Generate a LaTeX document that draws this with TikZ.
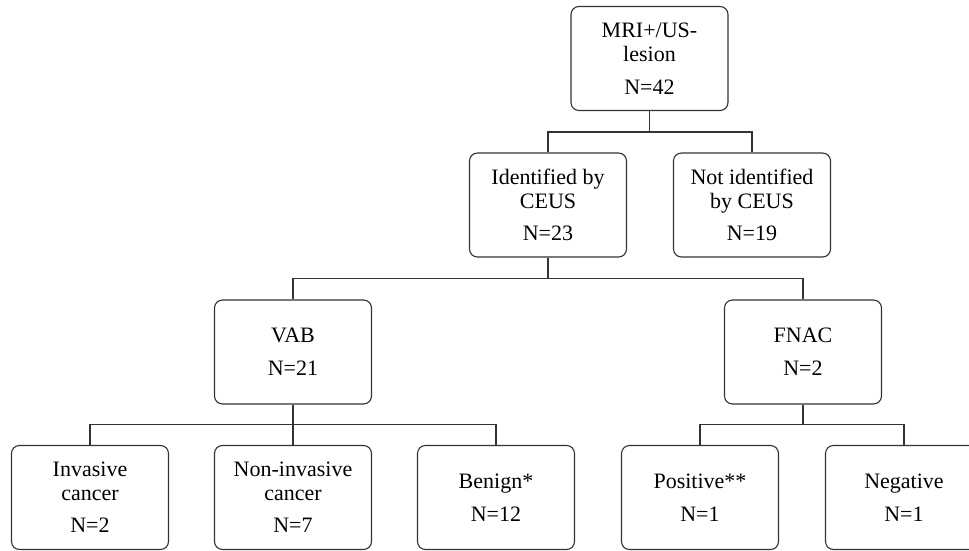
\documentclass[tikz,border=0pt]{standalone}
\usepackage{fontspec}
\setmainfont{Liberation Serif}
\usetikzlibrary{positioning,calc}
\tikzstyle{box}=[draw=black!80,line width=1.1pt,rounded corners=8pt,minimum width=157pt,minimum height=104pt,align=center,inner sep=2pt,font=\fontsize{22}{24}\selectfont]
\tikzstyle{link}=[draw=black!80,line width=1.1pt]

\begin{document}
\begin{tikzpicture}[x=1pt,y=1pt]
	\useasboundingbox (0,0) rectangle (969,550);
	% boxes
	\node [style=box] (mri) at (649.5, 491.5) {MRI+/US-\\lesion\\[9pt]N=42};
	\node [style=box] (ident) at (548, 345) {Identified by\\CEUS\\[8pt]N=23};
	\node [style=box] (notid) at (752, 345) {Not identified\\by CEUS\\[8pt]N=19};
	\node [style=box] (vab) at (293, 198) {VAB\\[9pt]N=21};
	\node [style=box] (fnac) at (803, 198) {FNAC\\[9pt]N=2};
	\node [style=box] (inv) at (90, 52.5) {Invasive\\cancer\\[8pt]N=2};
	\node [style=box] (noninv) at (293, 52.5) {Non-invasive\\cancer\\[8pt]N=7};
	\node [style=box] (benign) at (496, 52.5) {Benign*\\[9pt]N=12};
	\node [style=box] (pos) at (700, 52.5) {Positive**\\[9pt]N=1};
	\node [style=box] (neg) at (904, 52.5) {Negative\\[9pt]N=1};
	% connectors
	\draw [style=link] (mri.south) -- ++(0,-21) -| (ident.north);
	\draw [style=link] (mri.south) -- ++(0,-21) -| (notid.north);
	\draw [style=link] (ident.south) -- ++(0,-21) -| (vab.north);
	\draw [style=link] (ident.south) -- ++(0,-21) -| (fnac.north);
	\draw [style=link] (vab.south) -- ++(0,-20) -| (inv.north);
	\draw [style=link] (vab.south) -- (noninv.north);
	\draw [style=link] (vab.south) -- ++(0,-20) -| (benign.north);
	\draw [style=link] (fnac.south) -- ++(0,-20) -| (pos.north);
	\draw [style=link] (fnac.south) -- ++(0,-20) -| (neg.north);
\end{tikzpicture}
\end{document}
